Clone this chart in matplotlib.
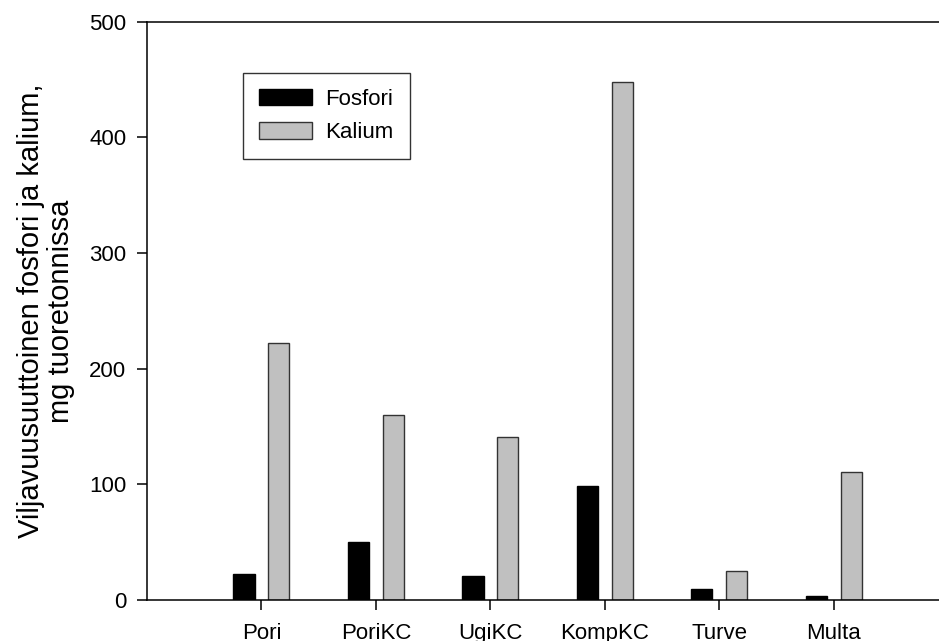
import numpy as np
import matplotlib
matplotlib.use("Agg")
import matplotlib.pyplot as plt

plt.rcParams['font.family'] = ['Liberation Sans', 'DejaVu Sans']

# kasvualustat ja ravinteet (mg / tuoretonni)
alustat = ['Pori', 'PoriKC', 'UgiKC', 'KompKC', 'Turve', 'Multa']
fosfori = [22, 50, 20, 98, 9, 3]
kalium = [222, 160, 141, 448, 25, 110]

x = np.arange(1, len(alustat) + 1)
leveys = 0.185
siirto = 0.152

fig = plt.figure(figsize=(9.39, 6.41), dpi=100)
ax = fig.add_axes([147 / 939, 0.0647, 1 - 147 / 939, 0.901])

ax.bar(x - siirto, fosfori, leveys, color='black', edgecolor='black',
       linewidth=1, label='Fosfori')
ax.bar(x + siirto, kalium, leveys, color='#c0c0c0', edgecolor='#333333',
       linewidth=1, label='Kalium')

ax.set_xlim(0, 6.92)
ax.set_ylim(0, 500)
ax.set_yticks(np.arange(0, 501, 100))
ax.set_xticks(x)
ax.set_xticklabels(alustat)

ax.spines['right'].set_visible(False)
for s in ['left', 'bottom', 'top']:
    ax.spines[s].set_linewidth(1.1)
ax.tick_params(axis='both', direction='out', length=7, width=1.1,
               labelsize=16, top=False, right=False)
ax.tick_params(axis='y', pad=8)
ax.tick_params(axis='x', pad=10)

fig.text(0.049, 0.515, 'Viljavuusuuttoinen fosfori ja kalium,\nmg tuoretonnissa',
         rotation=90, ha='center', va='center', multialignment='center',
         fontsize=21, linespacing=1.05)

leg = ax.legend(loc='upper left', bbox_to_anchor=(0.121, 0.912),
                borderaxespad=0, fontsize=16, fancybox=False,
                handlelength=2.4, handleheight=0.77, handletextpad=0.6,
                borderpad=0.72, labelspacing=0.55, framealpha=1)
leg.get_frame().set_edgecolor('#333333')
leg.get_frame().set_linewidth(1)

fig.savefig('out.png', dpi=100)
